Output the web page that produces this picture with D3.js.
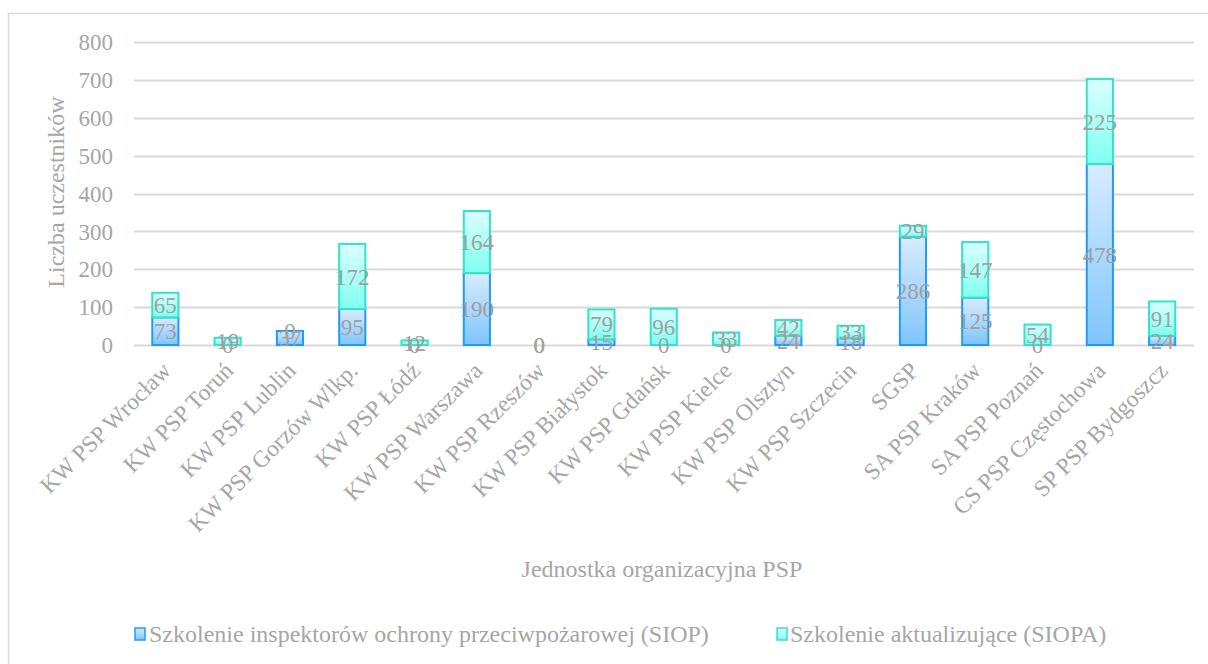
<!DOCTYPE html>
<html>
<head>
<meta charset="utf-8">
<script src="https://cdn.jsdelivr.net/npm/d3@7"></script>
<style>
html, body { margin: 0; padding: 0; background: #fff; }
svg { display: block; }
text { font-family: "Liberation Serif", "Times New Roman", serif; }
</style>
</head>
<body>
<svg id="chart" width="1208" height="664"></svg>
<script>
const categories = ["KW PSP Wrocław", "KW PSP Toruń", "KW PSP Lublin", "KW PSP Gorzów Wlkp.", "KW PSP Łódź", "KW PSP Warszawa", "KW PSP Rzeszów", "KW PSP Białystok", "KW PSP Gdańsk", "KW PSP Kielce", "KW PSP Olsztyn", "KW PSP Szczecin", "SGSP", "SA PSP Kraków", "SA PSP Poznań", "CS PSP Częstochowa", "SP PSP Bydgoszcz"];
const siop  = [73, 0, 37, 95, 0, 190, 0, 15, 0, 0, 24, 18, 286, 125, 0, 478, 24];
const siopa = [65, 19, 0, 172, 12, 164, 0, 79, 96, 33, 42, 33, 29, 147, 54, 225, 91];
const seriesNames = ["Szkolenie inspektorów ochrony przeciwpożarowej (SIOP)", "Szkolenie aktualizujące (SIOPA)"];
const yTicks = [0, 100, 200, 300, 400, 500, 600, 700, 800];
const yTitle = "Liczba uczestników";
const xTitle = "Jednostka organizacyjna PSP";

const svg = d3.select("#chart");
const textColor = "#a6a6a6";
const gridColor = "#d9d9d9";

// outer border
svg.append("rect").attr("x", 8.5).attr("y", 13.5).attr("width", 1260).attr("height", 700)
  .attr("fill", "#fff").attr("stroke", gridColor).attr("stroke-width", 1.5);

const defs = svg.append("defs");
function grad(id, c1, c2) {
  const g = defs.append("linearGradient").attr("id", id)
    .attr("x1", 0).attr("y1", 0).attr("x2", 0).attr("y2", 1);
  g.append("stop").attr("offset", "0%").attr("stop-color", c1);
  g.append("stop").attr("offset", "100%").attr("stop-color", c2);
}
grad("gSiop", "#d8ebff", "#7ec5fb");
grad("gSiopa", "#dcfffd", "#7ffff0");
const styles = [
  { fill: "url(#gSiop)", stroke: "#1f9bfb" },
  { fill: "url(#gSiopa)", stroke: "#33e3c9" }
];

const x = d3.scaleBand().domain(categories).range([134.2, 1193.3]).paddingInner(0.58).paddingOuter(0.29);
const y = d3.scaleLinear().domain([0, 800]).range([345, 42.2]);

// gridlines
svg.append("g").selectAll("line").data(yTicks).join("line")
  .attr("x1", 134).attr("x2", 1194)
  .attr("y1", d => Math.round(y(d)) + 0.5).attr("y2", d => Math.round(y(d)) + 0.5)
  .attr("stroke", gridColor).attr("stroke-width", 2);

// y tick labels
svg.append("g").selectAll("text").data(yTicks).join("text")
  .attr("x", 113).attr("y", d => y(d)).attr("dy", "0.35em")
  .attr("text-anchor", "end").attr("font-size", 23).attr("fill", textColor)
  .text(d => d);

// stacked bars
const stackData = categories.map((c, i) => ({ cat: c, siop: siop[i], siopa: siopa[i] }));
const stack = d3.stack().keys(["siop", "siopa"])(stackData);

stack.forEach((layer, li) => {
  svg.append("g").selectAll("rect").data(layer.filter(d => d[1] - d[0] > 0)).join("rect")
    .attr("x", d => x(d.data.cat))
    .attr("width", x.bandwidth())
    .attr("y", d => y(d[1]))
    .attr("height", d => y(d[0]) - y(d[1]))
    .attr("fill", styles[li].fill)
    .attr("stroke", styles[li].stroke)
    .attr("stroke-width", 2);
});

// data labels
stack.forEach((layer, li) => {
  svg.append("g").selectAll("text").data(layer).join("text")
    .attr("x", d => x(d.data.cat) + x.bandwidth() / 2)
    .attr("y", d => y((d[0] + d[1]) / 2))
    .attr("dy", "0.35em")
    .attr("text-anchor", "middle").attr("font-size", 23).attr("fill", "#a0a0a0")
    .text(d => d[1] - d[0]);
});

// category labels
svg.append("g").selectAll("text").data(categories).join("text")
  .attr("transform", d => `translate(${x(d) + x.bandwidth() / 2 + 7},372) rotate(-45)`)
  .attr("text-anchor", "end").attr("font-size", 23.5).attr("fill", textColor)
  .text(d => d);

// axis titles
svg.append("text").attr("transform", "translate(64,192) rotate(-90)")
  .attr("text-anchor", "middle").attr("font-size", 24).attr("fill", textColor)
  .text(yTitle);
svg.append("text").attr("x", 662).attr("y", 577)
  .attr("text-anchor", "middle").attr("font-size", 24).attr("fill", textColor)
  .text(xTitle);

// legend
const legendItems = [
  { mx: 135, tx: 149 },
  { mx: 777, tx: 790 }
];
legendItems.forEach((it, i) => {
  svg.append("rect").attr("x", it.mx).attr("y", 628).attr("width", 10).attr("height", 12)
    .attr("fill", styles[i].fill).attr("stroke", styles[i].stroke).attr("stroke-width", 1.5);
  svg.append("text").attr("x", it.tx).attr("y", 642)
    .attr("font-size", 24).attr("fill", textColor)
    .text(seriesNames[i]);
});
</script>
</body>
</html>
